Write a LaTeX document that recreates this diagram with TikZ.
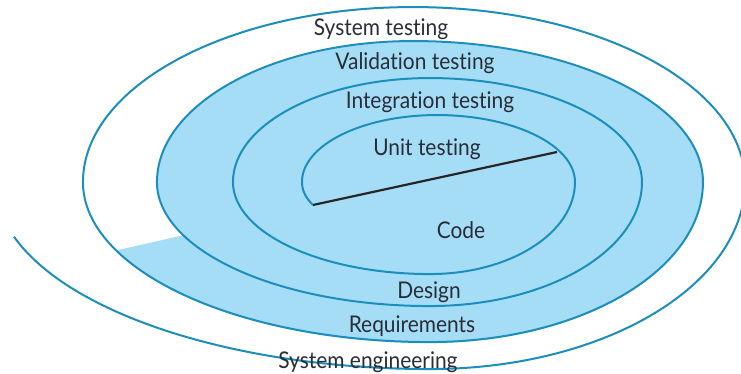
\documentclass[tikz,border=0pt]{standalone}
\usepackage{fontspec}
\setmainfont{Lato}[Ligatures={NoCommon},FakeStretch=0.91]
\usetikzlibrary{arrows.meta,positioning}
\definecolor{spiralblue}{RGB}{28,142,190}
\definecolor{bandblue}{RGB}{166,221,246}
\definecolor{labelgray}{RGB}{40,45,55}

\begin{document}
\begin{tikzpicture}[
      x=1pt,y=1pt,
      spiral/.style={draw=spiralblue,line width=2pt},
      band/.style={fill=bandblue},
      stage/.style={text=labelgray,font=\fontsize{23}{26}\selectfont,inner sep=0pt,anchor=base},
      cut/.style={draw=black!85,line width=2.2pt}
    ]
    \useasboundingbox (0,0) rectangle (741,373);
    \clip (0,0) rectangle (741,373);

    % Shaded bands
    \fill[band] ([shift={(430,190)}]205:273 and 124)
      arc[start angle=205,end angle=180,x radius=273,y radius=124]
      arc[start angle=180,end angle=90,x radius=256,y radius=141]
      arc[start angle=90,end angle=0,x radius=290,y radius=141]
      arc[start angle=0,end angle=-90,x radius=273,y radius=160]
      arc[start angle=270,end angle=205,x radius=347,y radius=160]
      -- cycle;

    % Ends of the cut
    \coordinate (S0) at (313,168);
    \coordinate (E0) at (557,221);

    % Spiral, from the inside out
    \draw[spiral] (S0)
      arc[start angle=215,end angle=180,x radius=61,y radius=40]
      arc[start angle=180,end angle=90,x radius=135,y radius=67]
      arc[start angle=90,end angle=0,x radius=138,y radius=67]
      arc[start angle=0,end angle=-90,x radius=145,y radius=92]
      arc[start angle=270,end angle=180,x radius=197,y radius=92]
      % turn 2
      arc[start angle=180,end angle=90,x radius=197,y radius=104]
      arc[start angle=90,end angle=0,x radius=212,y radius=104]
      arc[start angle=0,end angle=-90,x radius=212,y radius=124]
      arc[start angle=270,end angle=180,x radius=273,y radius=124]
      % turn 3
      arc[start angle=180,end angle=90,x radius=256,y radius=141]
      arc[start angle=90,end angle=0,x radius=290,y radius=141]
      arc[start angle=0,end angle=-90,x radius=273,y radius=160]
      arc[start angle=270,end angle=180,x radius=347,y radius=160]
      % turn 4
      arc[start angle=180,end angle=90,x radius=330,y radius=175]
      arc[start angle=90,end angle=0,x radius=332,y radius=175]
      arc[start angle=0,end angle=-90,x radius=315,y radius=187]
      arc[start angle=270,end angle=197,x radius=435,y radius=187];

    \draw[cut] (S0) -- (E0);

    % Testing side
    \node[stage] (T1) at (427,218) {Unit testing};
    \node[stage] (T2) at (430,265) {Integration testing};
    \node[stage] (T3) at (415,303) {Validation testing};
    \node[stage] (T4) at (381,337) {System testing};

    % Development side
    \node[stage] (D1) at (461,135) {Code};
    \node[stage] (D2) at (429,75) {Design};
    \node[stage] (D3) at (412,41) {Requirements};
    \node[stage] (D4) at (368,5) {System engineering};

  \end{tikzpicture}
\end{document}
